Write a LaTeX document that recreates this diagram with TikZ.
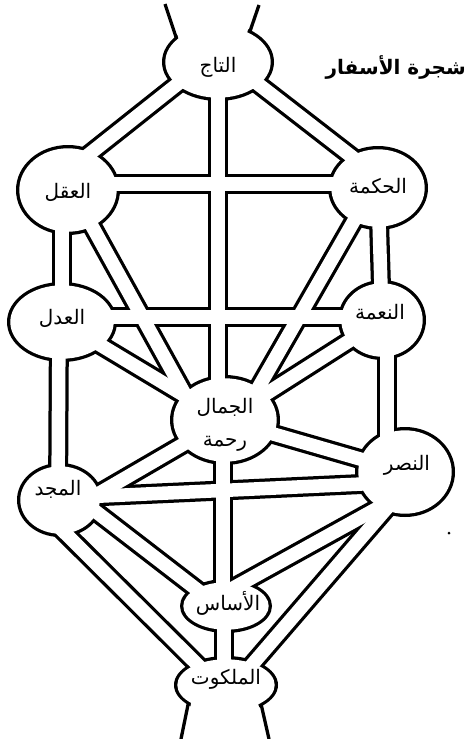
\documentclass[tikz,border=0pt]{standalone}
\usepackage{fontspec}
\newfontfamily\arabicfont[Script=Arabic]{DejaVu Sans}
\TeXXeTstate=1
\usetikzlibrary{calc}
\tikzset{
  chanout/.style={line width=20pt, draw=black},
  chanin/.style={line width=13.5pt, draw=white},
  lbl/.style={font=\arabicfont\fontsize{20}{23}\selectfont, inner sep=0pt, align=center},
  ttl/.style={font=\arabicfont\bfseries\fontsize{20}{24}\selectfont, inner sep=0pt},
}
\begin{document}
\begin{tikzpicture}[x=1pt,y=-1pt]
\useasboundingbox (0,0) rectangle (467,739);
% centres
\coordinate (K) at (218,62);
\coordinate (B) at (68,190);
\coordinate (C) at (378,188);
\coordinate (G) at (62,322);
\coordinate (H) at (382,320);
\coordinate (T) at (225,420);
\coordinate (N) at (405,472);
\coordinate (D) at (60,500);
\coordinate (Y) at (226,606);
\coordinate (M) at (226,685);
% edge list as a macro used twice
\def\edges#1{%
  \draw[#1] ($(K)+(0,-10)$) -- ($(B)+(0,-19)$);
  \draw[#1] ($(K)+(0,-9)$) -- ($(C)+(0,-11)$);
  \draw[#1] (K) -- ($(T)+(-7,0)$);
  \draw[#1] ($(B)+(0,-6)$) -- ($(C)+(0,-4)$);
  \draw[#1] ($(B)+(-6,0)$) -- (G);
  \draw[#1] (C) -- (H);
  \draw[#1] ($(B)+(3,-2)$) -- ($(T)+(-27,-2)$);
  \draw[#1] ($(C)+(-4,-2)$) -- ($(T)+(16,-2)$);
  \draw[#1] ($(G)+(0,-5)$) -- ($(H)+(0,-3)$);
  \draw[#1] (G) -- (T);
  \draw[#1] (H) -- (T);
  \draw[#1] ($(G)+(-3,0)$) -- ($(D)+(-2,0)$);
  \draw[#1] ($(H)+(5,0)$) -- ($(N)+(-18,0)$);
  \draw[#1] (T) -- (N);
  \draw[#1] (T) -- ($(D)+(0,16)$);
  \draw[#1] ($(T)+(-2,0)$) -- ($(Y)+(-3,0)$);
  \draw[#1] ($(D)+(0,-2)$) -- ($(N)+(0,10)$);
  \draw[#1] ($(N)+(0,21)$) -- ($(Y)+(0,-14)$);
  \draw[#1] ($(D)+(0,-16)$) -- ($(Y)+(0,6)$);
  \draw[#1] ($(D)+(-3,25)$) -- ($(M)+(0,8)$);
  \draw[#1] ($(N)+(0,15)$) -- ($(M)+(0,10)$);
  \draw[#1] ($(Y)+(-2,0)$) -- ($(M)+(-2,0)$);
}
\def\blobs#1#2{%
  \fill[#1] (K) ellipse [x radius=56pt+#2, y radius=39pt+#2];
  \fill[#1] (B) ellipse [x radius=52pt+#2, y radius=45pt+#2];
  \fill[#1] (C) ellipse [x radius=50pt+#2, y radius=42pt+#2];
  \fill[#1] (G) ellipse [x radius=55pt+#2, y radius=40pt+#2];
  \fill[#1] (H) ellipse [x radius=44pt+#2, y radius=40pt+#2];
  \fill[#1] (T) ellipse [x radius=55pt+#2, y radius=45pt+#2];
  \fill[#1] (N) ellipse [x radius=50pt+#2, y radius=45pt+#2];
  \fill[#1] (D) ellipse [x radius=43pt+#2, y radius=37pt+#2];
  \fill[#1] (Y) ellipse [x radius=46pt+#2, y radius=27pt+#2];
  \fill[#1] (M) ellipse [x radius=52pt+#2, y radius=29pt+#2];
}
% black layer
\edges{chanout}
\blobs{black}{0pt}
\draw[line width=3.3pt] (165,4) -- (177,40);
\draw[line width=3.3pt] (259,5) -- (247,40);
\draw[line width=3.3pt] (190,695) -- (181,739);
\draw[line width=3.3pt] (259,695) -- (269,739);
% white layer
\edges{chanin}
\blobs{white}{-3.3pt}
\fill[white] (167.8,0) -- (180.3,45) -- (243.7,45) -- (256.2,0) -- cycle;
\fill[white] (193.2,690) -- (184.2,745) -- (265.8,745) -- (255.8,690) -- cycle;
% labels
\node[lbl] (tK) at ($(K)+(0,5)$) {\beginR التاج\endR};
\node[lbl] (tB) at ($(B)+(0,2)$) {\beginR العقل\endR};
\node[lbl] (tC) at ($(C)+(0,-2)$) {\beginR الحكمة\endR};
\node[lbl] (tG) at ($(G)+(0,-4)$) {\beginR العدل\endR};
\node[lbl] (tH) at ($(H)+(-2,-8)$) {\beginR النعمة\endR};
\node[lbl] (tT) at ($(T)+(0,5)$) {\beginR الجمال\endR\\[10pt]\beginR رحمة\endR};
\node[lbl] (tN) at ($(N)+(2,-7)$) {\beginR النصر\endR};
\node[lbl] (tD) at ($(D)+(-2,-11)$) {\beginR المجد\endR};
\node[lbl] (tY) at ($(Y)+(2,-3)$) {\beginR الأساس\endR};
\node[lbl] (tM) at ($(M)+(0,-6)$) {\beginR الملكوت\endR};
\node[ttl, anchor=east] (title) at (466,67) {\beginR شجرة الأسفار\endR};
\fill (449,533) circle [radius=1.5pt];
\end{tikzpicture}
\end{document}
